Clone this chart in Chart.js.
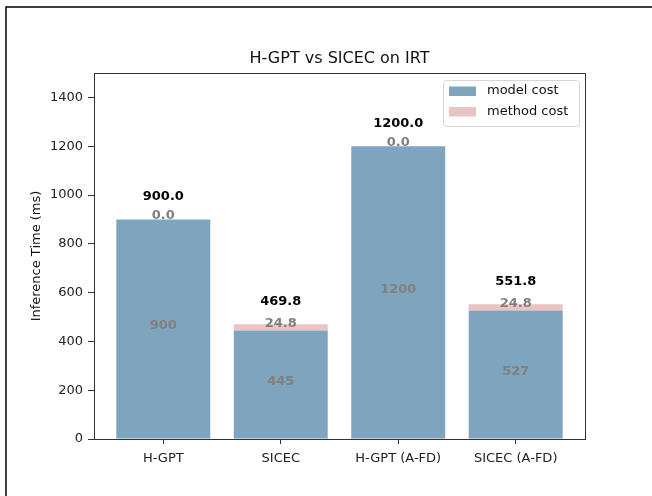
<!DOCTYPE html>
<html>
<head>
<meta charset="utf-8">
<script src="https://cdn.jsdelivr.net/npm/chart.js@4.4.1/dist/chart.umd.min.js"></script>
<style>
  html, body { margin: 0; padding: 0; background: #fff; }
  canvas { display: block; }
</style>
</head>
<body>
<canvas id="chart" width="652" height="496"></canvas>
<script>
const categories = ['H-GPT', 'SICEC', 'H-GPT (A-FD)', 'SICEC (A-FD)'];
const modelCost = [900, 445, 1200, 527];
const methodCost = [0.0, 24.8, 0.0, 24.8];
const yTicks = [0, 200, 400, 600, 800, 1000, 1200, 1400];

const FONT = '"DejaVu Sans", sans-serif';
const blue = '#7fa4bd';
const pink = '#ebc3c3';

// labels, frame, title and legend drawn on top of the bars
const extras = {
  id: 'extras',
  afterDraw(chart) {
    const ctx = chart.ctx;
    const area = chart.chartArea;
    const xs = chart.scales.x;
    const ys = chart.scales.y;
    ctx.save();

    // top and right spines
    ctx.strokeStyle = '#333';
    ctx.lineWidth = 1;
    ctx.beginPath();
    ctx.moveTo(area.left, area.top + 0.5);
    ctx.lineTo(area.right + 0.5, area.top + 0.5);
    ctx.lineTo(area.right + 0.5, area.bottom);
    ctx.stroke();

    // outer figure border
    ctx.strokeStyle = '#000';
    ctx.lineWidth = 1.5;
    ctx.beginPath();
    ctx.moveTo(6, 496);
    ctx.lineTo(6, 7);
    ctx.lineTo(652, 7);
    ctx.stroke();

    // title
    ctx.fillStyle = '#111';
    ctx.font = '16px ' + FONT;
    ctx.textAlign = 'center';
    ctx.textBaseline = 'alphabetic';
    ctx.fillText('H-GPT vs SICEC on IRT', (area.left + area.right) / 2, 63);

    // y axis title
    ctx.save();
    ctx.translate(40, (area.top + area.bottom) / 2);
    ctx.rotate(-Math.PI / 2);
    ctx.font = '13px ' + FONT;
    ctx.fillText('Inference Time (ms)', 0, 0);
    ctx.restore();

    // value labels
    ctx.textAlign = 'center';
    for (let i = 0; i < categories.length; i++) {
      const x = xs.getPixelForValue(i);
      const total = modelCost[i] + methodCost[i];
      ctx.font = 'bold 13px ' + FONT;
      ctx.fillStyle = '#808080';
      ctx.fillText(String(modelCost[i]), x, ys.getPixelForValue(modelCost[i] / 2));
      ctx.fillText(methodCost[i].toFixed(1), x, ys.getPixelForValue(modelCost[i] + methodCost[i] / 2));
      ctx.fillStyle = '#000';
      ctx.fillText(total.toFixed(1), x, ys.getPixelForValue(total) - 19);
    }

    // legend
    const lx = 443, ly = 80, lw = 136, lh = 46;
    ctx.fillStyle = 'rgba(255,255,255,0.8)';
    ctx.strokeStyle = '#d6d6d6';
    ctx.lineWidth = 1;
    ctx.beginPath();
    ctx.roundRect(lx + 0.5, ly + 0.5, lw, lh, 3);
    ctx.fill();
    ctx.stroke();
    const names = chart.data.datasets.map(d => d.label);
    const cols = chart.data.datasets.map(d => d.backgroundColor);
    ctx.font = '13px ' + FONT;
    ctx.textAlign = 'left';
    ctx.textBaseline = 'middle';
    for (let k = 0; k < names.length; k++) {
      const cy = ly + 11 + k * 20.5;
      ctx.fillStyle = cols[k];
      ctx.fillRect(lx + 6, cy - 4.5, 27, 9.5);
      ctx.fillStyle = '#111';
      ctx.fillText(names[k], lx + 44, cy);
    }
    ctx.restore();
  }
};

new Chart(document.getElementById('chart'), {
  type: 'bar',
  data: {
    datasets: [
      {
        label: 'model cost',
        data: modelCost.map((v, i) => ({ x: i, y: v })),
        backgroundColor: blue,
        categoryPercentage: 1,
        barPercentage: 0.8,
        borderWidth: 0
      },
      {
        label: 'method cost',
        data: methodCost.map((v, i) => ({ x: i, y: v })),
        backgroundColor: pink,
        categoryPercentage: 1,
        barPercentage: 0.8,
        borderWidth: 0
      }
    ]
  },
  options: {
    responsive: false,
    devicePixelRatio: 1,
    animation: false,
    layout: { padding: { left: 0, right: 67, top: 73, bottom: 27 } },
    plugins: {
      legend: { display: false },
      title: { display: false },
      tooltip: { enabled: false }
    },
    scales: {
      x: {
        type: 'linear',
        min: -0.59,
        max: 3.59,
        stacked: true,
        offset: false,
        afterBuildTicks(s) { s.ticks = categories.map((c, i) => ({ value: i })); },
        afterFit(s) { s.height = 30; },
        ticks: {
          autoSkip: false,
          maxRotation: 0,
          padding: 7,
          color: '#222',
          font: { family: FONT, size: 13 },
          callback: v => categories[v]
        },
        grid: { offset: false, drawOnChartArea: false, drawTicks: true, tickLength: 5, color: '#333' },
        border: { color: '#333', width: 1 }
      },
      y: {
        min: 0,
        max: 1500,
        stacked: true,
        afterBuildTicks(s) { s.ticks = yTicks.map(v => ({ value: v })); },
        afterFit(s) { s.width = 94; },
        ticks: {
          padding: 5,
          color: '#222',
          font: { family: FONT, size: 13 },
          callback: v => String(v)
        },
        grid: { drawOnChartArea: false, drawTicks: true, tickLength: 6, color: '#333' },
        border: { color: '#333', width: 1 }
      }
    }
  },
  plugins: [extras]
});
</script>
</body>
</html>
